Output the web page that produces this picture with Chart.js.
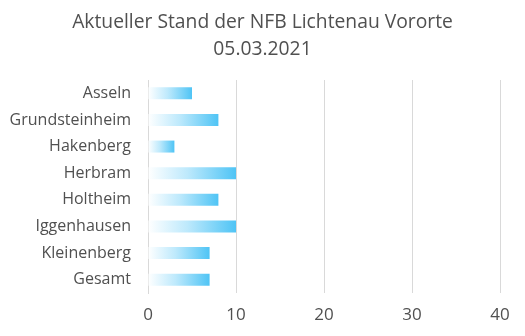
<!DOCTYPE html>
<html>
<head>
<meta charset="utf-8">
<script src="https://cdn.jsdelivr.net/npm/chart.js@4"></script>
<style>
    html, body { margin: 0; padding: 0; background: #fff; }
    #wrap { width: 525px; height: 336px; }
</style>
</head>
<body>
<div id="wrap"><canvas id="chart"></canvas></div>
<script>
var titleLines = ['Aktueller Stand der NFB Lichtenau Vororte', '05.03.2021'];
var orte = ['Asseln', 'Grundsteinheim', 'Hakenberg', 'Herbram', 'Holtheim', 'Iggenhausen', 'Kleinenberg', 'Gesamt'];
var stand = [5, 8, 3, 10, 8, 10, 7, 7];
var xTicks = [0, 10, 20, 30, 40];

var textColor = '#505050';
var gridColor = '#d9d9d9';
var fontFamily = '"Open Sans", "Liberation Sans", sans-serif';

// each bar fades from white at 0 to light blue at its end
function barFill(context) {
    var chart = context.chart;
    if (!chart.chartArea || context.type !== 'data') return '#55c6f6';
    var x = chart.scales.x;
    var x0 = x.getPixelForValue(0);
    var x1 = x.getPixelForValue(context.raw);
    if (x1 - x0 < 1) return '#55c6f6';
    var g = chart.ctx.createLinearGradient(x0, 0, x1, 0);
    g.addColorStop(0, '#ffffff');
    g.addColorStop(0.45, '#bde9fc');
    g.addColorStop(1, '#4fc4f5');
    return g;
}

// title centred on the whole canvas, not just the padded box
var canvasTitle = {
    id: 'canvasTitle',
    afterDraw: function (chart) {
        var ctx = chart.ctx;
        ctx.save();
        ctx.fillStyle = textColor;
        ctx.font = '19.3px ' + fontFamily;
        ctx.textAlign = 'center';
        ctx.textBaseline = 'middle';
        titleLines.forEach(function (line, i) {
            ctx.fillText(line, chart.width / 2, 23 + i * 26.5);
        });
        ctx.restore();
    }
};

new Chart(document.getElementById('chart').getContext('2d'), {
    type: 'bar',
    data: {
        labels: orte,
        datasets: [{
            label: 'Stand',
            data: stand,
            backgroundColor: barFill,
            borderWidth: 0,
            barPercentage: 0.45,
            categoryPercentage: 1
        }]
    },
    options: {
        indexAxis: 'y',
        responsive: true,
        maintainAspectRatio: false,
        animation: false,
        layout: { padding: { left: 0, right: 25, top: 80, bottom: 0 } },
        plugins: {
            legend: { display: false },
            tooltip: { enabled: false },
            title: { display: false }
        },
        scales: {
            x: {
                min: 0,
                max: 40,
                afterBuildTicks: function (scale) {
                    scale.ticks = xTicks.map(function (v) { return { value: v }; });
                },
                afterFit: function (scale) { scale.height = 43; },
                grid: { color: gridColor, drawTicks: false },
                border: { display: false },
                ticks: {
                    color: textColor,
                    padding: 12,
                    font: { family: fontFamily, size: 17 }
                }
            },
            y: {
                afterFit: function (scale) { scale.width = 148; },
                grid: { display: false, drawTicks: false },
                border: { display: true, color: gridColor },
                ticks: {
                    color: textColor,
                    padding: 17,
                    font: { family: fontFamily, size: 16 }
                }
            }
        }
    },
    plugins: [canvasTitle]
});
</script>
</body>
</html>
